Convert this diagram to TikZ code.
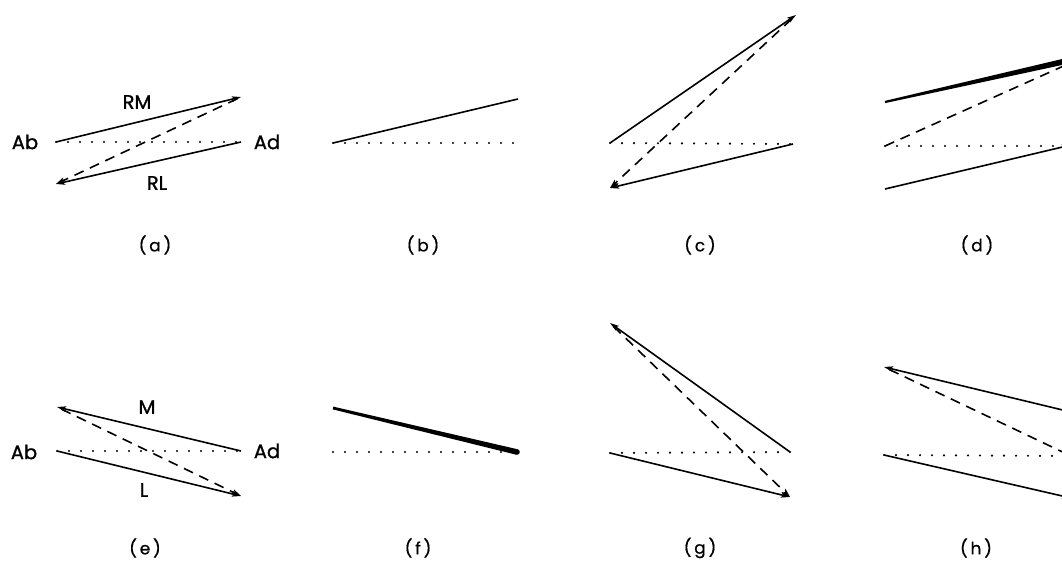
\documentclass[tikz,border=0pt]{standalone}
\usepackage{fontspec}
\setmainfont[FakeBold=1.2]{Poppins}
\newfontfamily\capfont[FakeBold=0.6]{Poppins}
\usetikzlibrary{arrows.meta,calc}
\begin{document}
\begin{tikzpicture}[x=1pt,y=-1pt,
  solidline/.style={line width=1.6pt},
  dashline/.style={line width=1.6pt, dash pattern=on 10pt off 7pt},
  dotline/.style={line width=2.4pt, dash pattern=on 0pt off 12pt, line cap=round},
  tip/.style={-{Stealth[length=9pt,width=5.5pt,inset=2pt]}},
  lbl/.style={inner sep=0pt, font=\fontsize{19.5}{22}\selectfont},
  captxt/.style={inner sep=0pt, font=\capfont\fontsize{17}{20}\selectfont}]
\useasboundingbox (0,0) rectangle (1062,564);

% ---------- (a)
\coordinate (a1) at (56,142);
\coordinate (a2) at (241,97);
\coordinate (a3) at (241,142);
\coordinate (a4) at (56,184);
\node[lbl] (aAb) at (25,142) {Ab};
\node[lbl] (aAd) at (267,142) {Ad};
\node[lbl] (aRM) at (137,102) {RM};
\node[lbl] (aRL) at (157,183) {RL};
\draw[dotline] (a1) -- (a3);
\draw[solidline,tip] (a1) -- (a2);
\draw[dashline,tip,shorten <=4pt] (a2) -- (a4);
\draw[solidline,tip] (a3) -- (a4);
\node[captxt] (capa) at (155,245) {(\,a\,)};

% ---------- (b)
\coordinate (b1) at (333,143);
\coordinate (b2) at (518,99);
\coordinate (b3) at (518,143);
\draw[dotline] (b1) -- (b3);
\draw[solidline] (b1) -- (b2);
\node[captxt] (capb) at (423,245) {(\,b\,)};

% ---------- (c)
\coordinate (c1) at (610,143);
\coordinate (c2) at (796,15);
\coordinate (c3) at (793,144);
\coordinate (c4) at (610,188);
\draw[dotline] (c1) -- (c3);
\draw[solidline,tip] (c1) -- (c2);
\draw[dashline,tip,shorten <=6pt] (c2) -- (c4);
\draw[solidline,tip] (c3) -- (c4);
\node[captxt] (capc) at (700,245) {(\,c\,)};

% ---------- (d)
\begin{scope}
\clip (0,0) rectangle (1062,564);
\coordinate (d1) at (885,102);
\coordinate (d2) at (1071,60);
\coordinate (d3) at (885,146);
\coordinate (d4) at (1071,146);
\coordinate (d5) at (885,189);
\coordinate (d6) at (1071,145);
\coordinate (d7) at (1068,64);
\fill ($(d1)!1.1pt!90:(d2)$) -- ($(d2)!3pt!-90:(d1)$) -- ($(d2)!3pt!90:(d1)$) -- ($(d1)!1.1pt!-90:(d2)$) -- cycle;
\draw[dotline] (d3) -- (d4);
\draw[dashline] (d3) -- (d7);
\draw[solidline,tip] (d5) -- (d6);
\end{scope}
\node[captxt] (capd) at (977,245) {(\,d\,)};

% ---------- (e)
\coordinate (e1) at (57,407);
\coordinate (e2) at (241,451);
\coordinate (e3) at (57,451);
\coordinate (e4) at (241,496);
\node[lbl] (eAb) at (24,452) {Ab};
\node[lbl] (eAd) at (267,451) {Ad};
\node[lbl] (eM) at (147,407) {M};
\node[lbl] (eL) at (144,490) {L};
\draw[dotline] (e3) -- (e2);
\draw[solidline,tip] (e2) -- (e1);
\draw[dashline,tip,shorten <=5pt] (e1) -- (e4);
\draw[solidline,tip] (e3) -- (e4);
\node[captxt] (cape) at (145,548) {(\,e\,)};

% ---------- (f)
\coordinate (f1) at (333,408);
\coordinate (f2) at (517,452);
\coordinate (f3) at (333,452);
\draw[dotline] (f3) -- (f2);
\fill ($(f1)!1.4pt!90:(f2)$) -- ($(f2)!2.8pt!-90:(f1)$) -- ($(f2)!2.8pt!90:(f1)$) -- ($(f1)!1.4pt!-90:(f2)$) -- cycle;
\fill (f2) circle (2.8pt);
\node[captxt] (capf) at (418,548) {(\,f\,)};

% ---------- (g)
\coordinate (g1) at (610,323);
\coordinate (g2) at (790,452);
\coordinate (g3) at (610,453);
\coordinate (g4) at (790,497);
\draw[dotline] (g3) -- (g2);
\draw[solidline,tip] (g2) -- (g1);
\draw[dashline,tip,shorten <=5pt] (g1) -- (g4);
\draw[solidline,tip] (g3) -- (g4);
\node[captxt] (capg) at (700,548) {(\,g\,)};

% ---------- (h)
\begin{scope}
\clip (0,0) rectangle (1062,564);
\coordinate (h1) at (884,367);
\coordinate (h2) at (1071,412);
\coordinate (h3) at (884,455);
\coordinate (h4) at (1071,456);
\coordinate (h5) at (1071,498);
\draw[dotline] (h3) -- (h4);
\draw[solidline,tip] (h2) -- (h1);
\draw[dashline,shorten <=6pt] (h1) -- (h4);
\draw[solidline,tip] (h3) -- (h5);
\end{scope}
\node[captxt] (caph) at (976,548) {(\,h\,)};
\end{tikzpicture}
\end{document}
